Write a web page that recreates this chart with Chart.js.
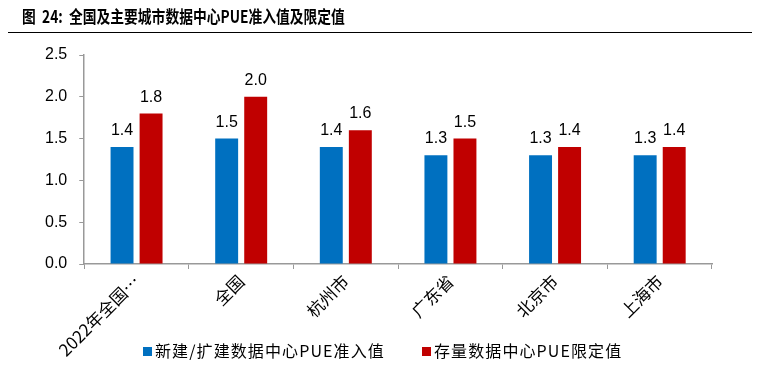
<!DOCTYPE html>
<html lang="zh">
<head>
<meta charset="UTF-8">
<title>PUE</title>
<script src="https://cdn.jsdelivr.net/npm/chart.js"></script>
<style>
  body { margin: 0; background: #fff; }
  #wrap { position: relative; width: 760px; height: 388px; }
  #title {
    position: absolute; left: 22px; top: 5px; z-index: 2;
    font: bold 17px "Noto Sans CJK SC", sans-serif; line-height: 22px;
    color: #000; white-space: nowrap;
    transform: scaleX(0.81); transform-origin: left center;
  }
  #rule { position: absolute; left: 8px; right: 8px; top: 32px; border-top: 1.5px solid #000; z-index: 2; }
  canvas { position: absolute; left: 0; top: 0; }
  #legend { position: absolute; top: 340px; left: 143px; z-index: 2;
    font: 16px "Noto Sans CJK SC", sans-serif; letter-spacing: 1.1px; color: #000; white-space: nowrap; line-height: 20px; }
  #legend span.item { position: absolute; top: 0; white-space: nowrap; }
  #legend i { display: inline-block; width: 9px; height: 9px; margin-right: 3px; vertical-align: 1px; }
</style>
</head>
<body>
<div id="wrap">
  <div id="title">图&nbsp;&nbsp;24:&nbsp;&nbsp;全国及主要城市数据中心PUE准入值及限定值</div>
  <div id="rule"></div>
  <canvas id="c"></canvas>
  <div id="legend"></div>
</div>
<script>
const categories = ['2022年全国…', '全国', '杭州市', '广东省', '北京市', '上海市'];
const seriesNames = ['新建/扩建数据中心PUE准入值', '存量数据中心PUE限定值'];
const newBuild = [1.4, 1.5, 1.4, 1.3, 1.3, 1.3];
const existing = [1.8, 2.0, 1.6, 1.5, 1.4, 1.4];
const yTicks = [0, 0.5, 1.0, 1.5, 2.0, 2.5];
const colors = ['#0070C0', '#C00000'];

const fontLatin = '"Liberation Sans", Arial, sans-serif';
const fontCJK = '"Noto Sans CJK SC", sans-serif';

// draw value labels above every bar
const valueLabels = {
  id: 'valueLabels',
  afterDatasetsDraw(chart) {
    const ctx = chart.ctx;
    ctx.save();
    ctx.font = '16px ' + fontLatin;
    ctx.fillStyle = '#000';
    ctx.textAlign = 'center';
    ctx.textBaseline = 'alphabetic';
    chart.data.datasets.forEach((ds, i) => {
      chart.getDatasetMeta(i).data.forEach((bar, j) => {
        ctx.fillText(ds.data[j].toFixed(1), bar.x, bar.y - 12);
      });
    });
    ctx.restore();
  }
};

const chart = new Chart(document.getElementById('c'), {
  type: 'bar',
  data: {
    labels: categories,
    datasets: [
      { label: seriesNames[0], data: newBuild, backgroundColor: colors[0] },
      { label: seriesNames[1], data: existing, backgroundColor: colors[1] }
    ]
  },
  options: {
    responsive: true,
    maintainAspectRatio: false,
    animation: false,
    categoryPercentage: 0.555,
    barPercentage: 0.79,
    layout: { padding: { top: 55, left: 33, right: 48, bottom: 28 } },
    scales: {
      x: {
        grid: { drawOnChartArea: false, color: '#999', tickLength: 5, offset: true },
        border: { color: '#999', width: 1.5 },
        ticks: { color: '#000', font: { family: fontCJK, size: 17 }, minRotation: 45, maxRotation: 45, padding: 2 },
        afterFit(axis) { axis.height = 96; }
      },
      y: {
        min: 0, max: 2.5,
        afterBuildTicks(axis) { axis.ticks = yTicks.map(v => ({ value: v })); },
        grid: { drawOnChartArea: false, color: '#999', tickLength: 5 },
        border: { color: '#999', width: 1.5 },
        ticks: { color: '#000', font: { family: fontLatin, size: 16 }, padding: 12,
                 callback: v => v.toFixed(1) }
      }
    },
    plugins: {
      legend: { display: false },
      tooltip: { enabled: false }
    }
  },
  plugins: [valueLabels]
});

// legend sits in the space beside the rotated labels, as in the original
const legendX = [0, 279];
document.getElementById('legend').innerHTML = chart.data.datasets.map((ds, i) =>
  `<span class="item" style="left:${legendX[i]}px"><i style="background:${ds.backgroundColor}"></i>${ds.label}</span>`
).join('');
</script>
</body>
</html>
